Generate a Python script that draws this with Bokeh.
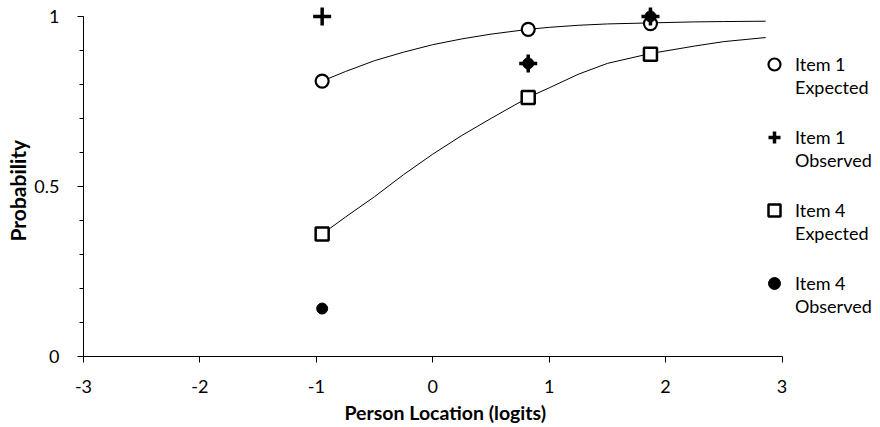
from bokeh.plotting import figure
from bokeh.models import Range1d, FixedTicker, Legend, LegendItem, Title
from bokeh.embed import file_html
from bokeh.resources import INLINE

# ---- data ----
person_locations = [-0.95, 0.82, 1.87]
item1_expected = [0.810, 0.962, 0.979]
item1_observed = [1.0, 0.862, 1.0]
item4_expected = [0.360, 0.762, 0.889]
item4_observed = [0.141, 0.862, 1.0]

curve_x = [-0.95, -0.75, -0.5, -0.25, 0.0, 0.25, 0.5, 0.82, 1.0, 1.25, 1.5, 1.87, 2.25, 2.5, 2.86]
item1_curve = [0.810, 0.838, 0.870, 0.895, 0.917, 0.934, 0.948, 0.962, 0.968, 0.974, 0.978, 0.981, 0.984, 0.985, 0.986]
item4_curve = [0.360, 0.410, 0.470, 0.535, 0.595, 0.650, 0.700, 0.762, 0.790, 0.830, 0.862, 0.891, 0.913, 0.926, 0.938]

x_ticks = [-3, -2, -1, 0, 1, 2, 3]
x_tick_labels = {-3: "-3", -2: "-2", -1: "-1", 0: "0", 1: "1", 2: "2", 3: "3"}
y_ticks = [0, 0.5, 1]
y_minor_ticks = [0.0, 0.1, 0.2, 0.3, 0.4, 0.5, 0.6, 0.7, 0.8, 0.9, 1.0]

series_names = ["Item 1", "Item 1", "Item 4", "Item 4"]
series_kinds = ["Expected", "Observed", "Expected", "Observed"]

x_title = "Person Location (logits)"
y_title = "Probability"

FONT = "Lato"

p = figure(width=880, height=427, output_backend="svg", toolbar_location=None,
           x_range=Range1d(-3, 3.846), y_range=Range1d(0, 1.0469),
           min_border_left=79, min_border_right=0, min_border_top=0, min_border_bottom=70)
p.outline_line_color = None
p.grid.visible = False
p.background_fill_color = "white"
p.border_fill_color = "white"

# curves
p.line(curve_x, item1_curve, line_color="black", line_width=1)
p.line(curve_x, item4_curve, line_color="black", line_width=1)

r_i1e = p.scatter(person_locations, item1_expected, marker="circle", size=13,
                  fill_color="white", line_color="black", line_width=2.2)
r_i4e = p.scatter(person_locations, item4_expected, marker="square", size=13,
                  fill_color="white", line_color="black", line_width=2.5)
r_i4o = p.scatter(person_locations, item4_observed, marker="circle", size=11,
                  fill_color="black", line_color="black", line_width=1)
r_i1o = p.scatter(person_locations, item1_observed, marker="cross", size=18,
                  line_color="black", line_width=3.5)
blank = p.scatter(x=[], y=[], marker="circle", size=1, fill_alpha=0, line_alpha=0)

# axes
xa = p.xaxis[0]
xa.ticker = FixedTicker(ticks=x_ticks)
xa.major_label_overrides = x_tick_labels
xa.bounds = (-3, 3)
ya = p.yaxis[0]
ya.ticker = FixedTicker(ticks=y_ticks, minor_ticks=y_minor_ticks)
ya.bounds = (0, 1)

for ax in (xa, ya):
    ax.axis_line_color = "black"
    ax.axis_line_width = 1
    ax.major_tick_line_color = "black"
    ax.major_tick_out = 6
    ax.major_tick_in = 0
    ax.major_label_text_font = FONT
    ax.major_label_text_font_size = "18px"
    ax.major_label_text_color = "black"

xa.minor_tick_line_color = None
xa.major_label_standoff = 17
ya.minor_tick_line_color = "black"
ya.minor_tick_out = 4
ya.minor_tick_in = 0
ya.major_label_standoff = 18

# axis titles (offset to match the reference's placement)
tx = Title(text=x_title, align="left", offset=261, standoff=7,
           text_font=FONT, text_font_size="19.5px", text_font_style="bold", text_color="black")
p.add_layout(tx, "below")
ty = Title(text=y_title, align="left", offset=115, standoff=4,
           text_font=FONT, text_font_size="21px", text_font_style="bold", text_color="black")
p.add_layout(ty, "left")


def style_legend(lg):
    lg.padding = 0
    lg.margin = 0
    lg.spacing = 43
    lg.glyph_width = 30
    lg.glyph_height = 30
    lg.label_height = 30
    lg.label_standoff = 6
    lg.label_text_font = FONT
    lg.label_text_font_size = "18px"
    lg.label_text_color = "black"
    lg.border_line_color = None
    lg.background_fill_alpha = 0


legend_a = Legend(items=[
    LegendItem(label=series_names[0], renderers=[r_i1e]),
    LegendItem(label=series_names[1], renderers=[r_i1o]),
    LegendItem(label=series_names[2], renderers=[r_i4e]),
    LegendItem(label=series_names[3], renderers=[r_i4o]),
], location=(676, 58), orientation="vertical")
style_legend(legend_a)
p.add_layout(legend_a, "center")

legend_b = Legend(items=[LegendItem(label=k, renderers=[blank]) for k in series_kinds],
                  location=(676, 35), orientation="vertical")
style_legend(legend_b)
p.add_layout(legend_b, "center")

open("out.html", "w").write(file_html(p, INLINE))
